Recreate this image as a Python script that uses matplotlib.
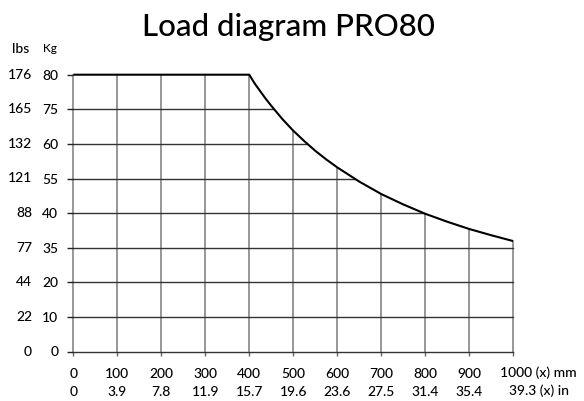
import matplotlib
matplotlib.use("Agg")
from matplotlib import pyplot as plt
import numpy as np

plt.rcParams['font.family'] = ['Lato', 'DejaVu Sans']

# x axis: reach in mm and in inches
x_mm = [0, 100, 200, 300, 400, 500, 600, 700, 800, 900, 1000]
x_in = ['0', '3.9', '7.8', '11.9', '15.7', '19.6', '23.6', '27.5', '31.4', '35.4', '39.3']

# y axis rows (evenly spaced in the drawing), labelled in kg and lbs
kg_labels = ['0', '10', '20', '35', '40', '55', '60', '75', '80']
lbs_labels = ['0', '22', '44', '77', '88', '121', '132', '165', '176']

# load curve in grid-row units (row 8 = 80 kg)
curve_x = [0, 400, 412, 425, 437, 450, 475, 500, 525, 550, 575, 600, 650, 700,
           750, 800, 850, 900, 950, 1000]
curve_y = [8.0, 8.0, 7.75, 7.52, 7.31, 7.1, 6.72, 6.38, 6.08, 5.8, 5.55, 5.32,
           4.91, 4.55, 4.25, 3.98, 3.75, 3.54, 3.36, 3.19]

W, H = 584, 401
fig = plt.figure(figsize=(W / 100, H / 100), dpi=100)
left, bottom, width, height = 73.3, 49.5, 440.0, 276.8
ax = fig.add_axes([left / W, bottom / H, width / W, height / H])

rows = np.arange(len(kg_labels))
ax.set_xlim(0, 1000)
ax.set_ylim(0, 8)

for s in ax.spines.values():
    s.set_visible(False)

fs = 10
xlabels = [f'{a}\n{b}' for a, b in zip(x_mm, x_in)]
xlabels[-1] = ''  # last one gets the units, drawn below
ax.set_xticks(x_mm)
ax.set_xticklabels(xlabels, fontsize=fs, linespacing=1.65, fontweight='medium')
ax.set_yticks(rows)
ax.set_yticklabels(kg_labels, fontsize=fs, fontweight='medium')
ax.tick_params(axis='x', direction='out', length=3.2, width=1, color='#666666', pad=8.6)
ax.tick_params(axis='y', direction='out', length=4.3, width=1, color='#222222', pad=6.5)

# grid: verticals lighter, horizontals darker
ax.grid(axis='x', color='#7a7a7a', linewidth=1.1)
ax.grid(axis='y', color='#333333', linewidth=1.0)
ax.yaxis.get_gridlines()[-1].set_visible(False)
for gl in ax.get_xgridlines() + ax.get_ygridlines():
    gl.set_clip_on(False)

# hide grid above the curve
ax.fill_between(curve_x + [1008], curve_y + [curve_y[-1]], 8.06, color='white',
                zorder=2, linewidth=0, clip_on=False)
ax.plot(curve_x, curve_y, color='black', linewidth=1.5, zorder=3, clip_on=False,
        solid_capstyle='butt')

# lbs column
yt = ax.get_yaxis_transform()
for r, lab in zip(rows, lbs_labels):
    ax.text((32 - left) / width, r, lab, transform=yt, ha='right', va='center',
            fontsize=fs, fontweight='medium')

fig.text(12 / W, 1 - 49 / H, 'lbs', ha='left', va='center', fontsize=fs, fontweight='medium')
fig.text(43 / W, 1 - 49 / H, 'Kg', ha='left', va='center', fontsize=8.5, fontweight='medium')

# last x label with units
fig.text(538.5 / W, 1 - 372.5 / H, f'{x_mm[-1]} (x) mm', ha='center', va='center',
         fontsize=fs, fontweight='medium')
fig.text(539 / W, 1 - 391 / H, f'{x_in[-1]} (x) in', ha='center', va='center',
         fontsize=fs, fontweight='medium')

fig.text(288 / W, 1 - 36 / H, 'Load diagram PRO80', ha='center', va='baseline',
         fontsize=22.5, fontweight='medium')

plt.savefig('out.png', dpi=100)
